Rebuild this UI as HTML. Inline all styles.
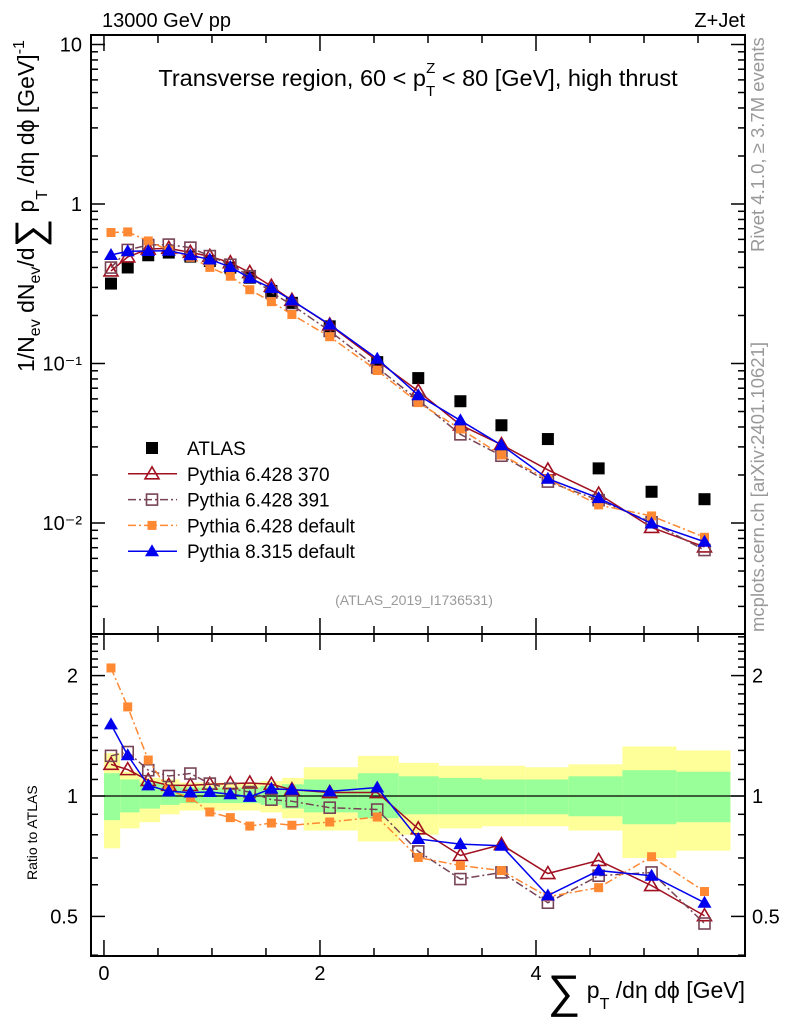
<!DOCTYPE html>
<html><head><meta charset="utf-8"><style>
body{margin:0;background:#fff;}
svg{display:block;font-family:"Liberation Sans",sans-serif;}
</style></head><body>
<svg id="chart" width="786" height="1024" viewBox="0 0 786 1024" xmlns="http://www.w3.org/2000/svg">
<text x="102" y="27" font-size="20">13000 GeV pp</text>
<text x="745" y="27" font-size="20" text-anchor="end">Z+Jet</text>
<text x="418" y="86" font-size="23.5" text-anchor="middle">Transverse region, 60 &lt; p<tspan font-size="15" dy="10">T</tspan><tspan font-size="15" dx="-9" dy="-23">Z</tspan><tspan dy="13"> &lt; 80 [GeV], high thrust</tspan></text>
<text x="414" y="605" font-size="14" fill="#999" text-anchor="middle">(ATLAS_2019_I1736531)</text>
<text transform="translate(764,252) rotate(-90)" font-size="18.5" fill="#999">Rivet 4.1.0, ≥ 3.7M events</text>
<text transform="translate(764,632) rotate(-90)" font-size="18.5" fill="#999">mcplots.cern.ch [arXiv:2401.10621]</text>
<text transform="translate(34,372) rotate(-90)" font-size="23">1/N<tspan font-size="16" dy="6">ev</tspan><tspan dy="-6"> dN</tspan><tspan font-size="16" dy="6">ev</tspan><tspan dy="-6">/d</tspan><tspan font-size="40" dy="9">∑</tspan><tspan dy="-9"> p</tspan><tspan font-size="16" dy="13">T</tspan><tspan dy="-13"> /dη dϕ  [GeV]</tspan><tspan font-size="16" dy="-10">-1</tspan></text>
<text transform="translate(37,880) rotate(-90)" font-size="14">Ratio to ATLAS</text>
<text x="745" y="998" font-size="23" text-anchor="end"><tspan font-size="46" dy="9">∑</tspan><tspan dy="-9"> p</tspan><tspan font-size="16" dy="11">T</tspan><tspan dy="-11"> /dη dϕ [GeV]</tspan></text>
<g id="plot"></g>
</svg>
<script>
const xs = [0.065,0.22,0.41,0.6,0.8,0.98,1.17,1.35,1.55,1.74,2.09,2.53,2.91,3.3,3.68,4.11,4.58,5.07,5.56];
const atlas = [0.317,0.40,0.477,0.496,0.468,0.439,0.399,0.345,0.285,0.240,0.171,0.102,0.081,0.058,0.041,0.0336,0.022,0.0157,0.0141];
const rP370 = [1.20,1.164,1.094,1.063,1.063,1.07,1.074,1.078,1.07,1.037,1.02,1.02,0.828,0.71,0.756,0.64,0.69,0.597,0.502];
const rP391 = [1.26,1.288,1.16,1.122,1.138,1.074,1.043,1.023,0.979,0.97,0.935,0.925,0.727,0.62,0.644,0.541,0.632,0.644,0.48];
const rPdef = [2.09,1.67,1.23,1.033,0.99,0.912,0.883,0.841,0.856,0.845,0.861,0.886,0.702,0.67,0.651,0.56,0.59,0.705,0.577];
const rP8 = [1.51,1.264,1.063,1.027,1.02,1.023,1.01,0.995,1.043,1.037,1.027,1.05,0.781,0.758,0.751,0.564,0.651,0.632,0.541];
const binEdges = [0,0.15,0.33,0.52,0.7,0.89,1.08,1.27,1.45,1.65,1.85,2.35,2.73,3.1,3.5,3.9,4.3,4.8,5.3,5.8];
const statUp = [1.14,1.10,1.08,1.07,1.05,1.05,1.05,1.05,1.06,1.07,1.10,1.14,1.12,1.11,1.10,1.10,1.12,1.16,1.15];
const statDn = [0.87,0.91,0.93,0.95,0.96,0.96,0.96,0.96,0.95,0.93,0.91,0.88,0.90,0.90,0.90,0.90,0.89,0.85,0.86];
const totUp = [1.28,1.15,1.11,1.10,1.08,1.08,1.08,1.08,1.09,1.11,1.18,1.26,1.21,1.19,1.19,1.18,1.20,1.33,1.30];
const totDn = [0.74,0.83,0.86,0.90,0.92,0.92,0.92,0.92,0.91,0.88,0.82,0.77,0.80,0.83,0.84,0.84,0.82,0.70,0.73];
const xTicks = [0,2,4];
const topTicks = [10,1,0.1,0.01];
const topTickLabels = ["10","1","10⁻¹","10⁻²"];
const ratioTicks = [0.5,1,2];
const ratioTickLabels = ["0.5","1","2"];

const NS="http://www.w3.org/2000/svg";
const g=document.getElementById('plot');
const L=91,R=745,T=35,M=634,B=956;
const xmin=-0.12,xmax=5.935;
const X=v=>L+(v-xmin)/(xmax-xmin)*(R-L);
const Ytop=v=>204-Math.log10(v)*159.5;
const Yr=v=>796-Math.log10(v)*400;
function el(tag,attrs,parent){const e=document.createElementNS(NS,tag);for(const k in attrs)e.setAttribute(k,attrs[k]);(parent||g).appendChild(e);return e;}

for(let i=0;i<xs.length;i++){
  const x0=X(binEdges[i]),x1=X(binEdges[i+1]);
  const b=el('rect',{x:x0,y:Yr(totUp[i]),width:x1-x0,height:Yr(totDn[i])-Yr(totUp[i]),fill:'#ffff99'});
  
  
  const s=el('rect',{x:x0,y:Yr(statUp[i]),width:x1-x0,height:Yr(statDn[i])-Yr(statUp[i]),fill:'#99ff99'});
  
  
}
el('line',{x1:L,x2:R,y1:Yr(1),y2:Yr(1),stroke:'#000','stroke-width':1.3});

function marker(type,cx,cy,col,par){
  let m;
  if(type==='sqf') m=el('rect',{x:cx-6,y:cy-6,width:12,height:12,fill:col},par);
  else if(type==='sqo') m=el('rect',{x:cx-5.5,y:cy-5.5,width:11,height:11,fill:'none',stroke:col,'stroke-width':1.6},par);
  else if(type==='sqs') m=el('rect',{x:cx-4.5,y:cy-4.5,width:9,height:9,fill:col},par);
  else if(type==='tro') m=el('path',{d:`M${cx},${cy-7}L${cx+7},${cy+5}L${cx-7},${cy+5}Z`,fill:'none',stroke:col,'stroke-width':1.6},par);
  else m=el('path',{d:`M${cx},${cy-7}L${cx+7},${cy+5}L${cx-7},${cy+5}Z`,fill:col},par);
  return m;
}
const series=[
 {name:'pythia-6428-370',r:rP370,col:'#a01020',dash:'',mk:'tro'},
 {name:'pythia-6428-391',r:rP391,col:'#774455',dash:'8,3,2,3',mk:'sqo'},
 {name:'pythia-6428-default',r:rPdef,col:'#ff8833',dash:'8,3,2,3',mk:'sqs'},
 {name:'pythia-8315-default',r:rP8,col:'#0000ee',dash:'',mk:'trf'}
];
atlas.forEach((v,i)=>{const m=marker('sqf',X(xs[i]),Ytop(v),'#000');
  
  });
series.forEach(s=>{
  const vals=s.r.map((r,i)=>r*atlas[i]);
  const pt=vals.map((v,i)=>X(xs[i])+','+Ytop(v)).join(' ');
  const l=el('polyline',{points:pt,fill:'none',stroke:s.col,'stroke-width':1.5,'stroke-dasharray':s.dash});
  
  
  vals.forEach((v,i)=>{const m=marker(s.mk,X(xs[i]),Ytop(v),s.col);
    
    });
  const pr=s.r.map((r,i)=>X(xs[i])+','+Yr(r)).join(' ');
  const lr=el('polyline',{points:pr,fill:'none',stroke:s.col,'stroke-width':1.5,'stroke-dasharray':s.dash});
  
  
  s.r.forEach((r,i)=>{const m=marker(s.mk,X(xs[i]),Yr(r),s.col);
    
    });
});
el('rect',{x:L,y:T,width:R-L,height:M-T,fill:'none',stroke:'#000','stroke-width':2});
el('rect',{x:L,y:M,width:R-L,height:B-M,fill:'none',stroke:'#000','stroke-width':2});
for(let v=0;v<=5.9;v+=0.5){
  const maj=xTicks.some(t=>Math.abs(t-v)<1e-6);const len=maj?16:8;const x=X(v);
  [[T,1],[M,-1],[M,1],[B,-1]].forEach(([y,d])=>el('line',{x1:x,x2:x,y1:y,y2:y+d*len,stroke:'#000','stroke-width':1.5}));
}
xTicks.forEach(t=>{const e=el('text',{x:X(t),y:980,'font-size':20,'text-anchor':'middle'});e.textContent=t;
  
  });
for(let d=-3;d<=1;d++){for(let k=1;k<=9;k++){const v=k*Math.pow(10,d);const y=Ytop(v);if(y<T||y>M)continue;
  const len=k===1?14:7;el('line',{x1:L,x2:L+len,y1:y,y2:y,stroke:'#000','stroke-width':1.5});el('line',{x1:R,x2:R-len,y1:y,y2:y,stroke:'#000','stroke-width':1.5});}}
topTicks.forEach((t,i)=>{const e=el('text',{x:82,y:Ytop(t)+7,'font-size':20,'text-anchor':'end'});e.textContent=topTickLabels[i];
  
  });
[0.4,0.5,0.6,0.7,0.8,0.9,1,1.1,1.2,1.3,1.4,1.5,1.6,1.7,1.8,1.9,2,2.1,2.2,2.3,2.4,2.5].forEach(v=>{const y=Yr(v);if(y<M||y>B)return;
  const len=ratioTicks.includes(v)?14:7;el('line',{x1:L,x2:L+len,y1:y,y2:y,stroke:'#000','stroke-width':1.5});el('line',{x1:R,x2:R-len,y1:y,y2:y,stroke:'#000','stroke-width':1.5});});
ratioTicks.forEach((t,i)=>{
  const e=el('text',{x:78,y:Yr(t)+7,'font-size':20,'text-anchor':'end'});e.textContent=ratioTickLabels[i];
  
  
  const e2=el('text',{x:752,y:Yr(t)+7,'font-size':20});e2.textContent=ratioTickLabels[i];
  
  });
const leg=el('g',{});


const legRows=[{t:'ATLAS',mk:'sqf',col:'#000',line:false,dash:''}].concat(series.map(s=>({t:{'pythia-6428-370':'Pythia 6.428 370','pythia-6428-391':'Pythia 6.428 391','pythia-6428-default':'Pythia 6.428 default','pythia-8315-default':'Pythia 8.315 default'}[s.name],mk:s.mk,col:s.col,line:true,dash:s.dash})));
legRows.forEach((r,i)=>{const y=448+i*25.8;
  if(r.line)el('line',{x1:128,x2:177,y1:y,y2:y,stroke:r.col,'stroke-width':1.5,'stroke-dasharray':r.dash},leg);
  marker(r.mk,152,y,r.col,leg);
  const t=el('text',{x:187,y:y+7,'font-size':19},leg);t.textContent=r.t;
  
  });
</script>
</body></html>
